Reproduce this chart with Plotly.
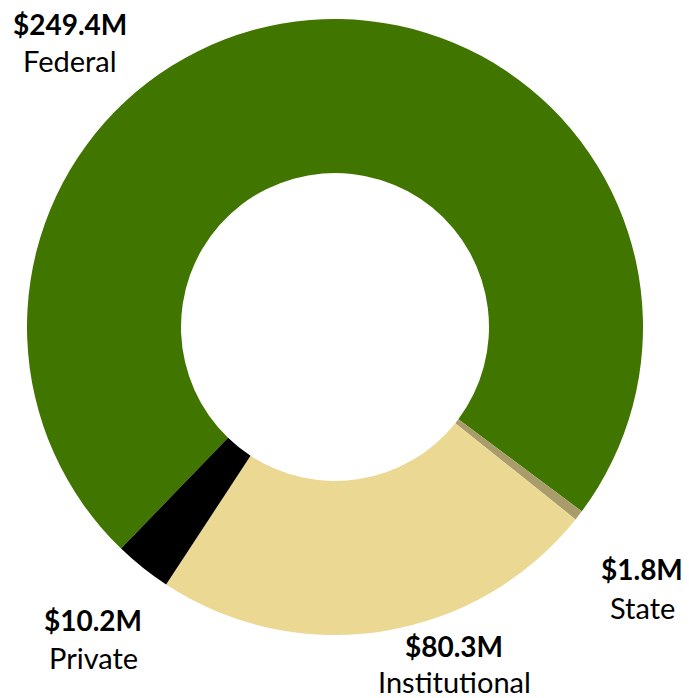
import plotly.graph_objects as go

# Funding sources (millions of dollars), in drawing order
sources = ["Federal", "State", "Institutional", "Private"]
amounts = [249.4, 1.8, 80.3, 10.2]
colors = ["#407500", "#A99C6B", "#EBD893", "#000000"]

# Label anchor points (pixels) for each source: x, value line y, name line y
label_pos = {
    "Federal": (70, 24, 60),
    "State": (642, 569, 607),
    "Institutional": (454, 646, 681),
    "Private": (93, 620, 657),
}

W, H = 689, 698

fig = go.Figure(
    go.Pie(
        labels=sources,
        values=amounts,
        marker=dict(colors=colors, line=dict(width=0)),
        hole=0.5,
        sort=False,
        direction="clockwise",
        rotation=224,
        textinfo="none",
        hoverinfo="label+value",
        domain=dict(x=[27 / W, 643 / W], y=[1 - 635 / H, 1 - 19 / H]),
    )
)

font_family = "Lato, 'Open Sans', sans-serif"
for name, val in zip(sources, amounts):
    x, y1, y2 = label_pos[name]
    fig.add_annotation(
        x=x / W, y=1 - y1 / H, xref="paper", yref="paper",
        text=f"<b>${val:.1f}M</b>", showarrow=False,
        xanchor="center", yanchor="middle",
        font=dict(family=font_family, size=28, color="#000000"),
    )
    fig.add_annotation(
        x=x / W, y=1 - y2 / H, xref="paper", yref="paper",
        text=name, showarrow=False,
        xanchor="center", yanchor="middle",
        font=dict(family=font_family, size=29, color="#000000"),
    )

fig.update_layout(
    width=W, height=H,
    margin=dict(l=0, r=0, t=0, b=0),
    paper_bgcolor="white",
    plot_bgcolor="white",
    showlegend=False,
)

fig.write_html("out.html")
